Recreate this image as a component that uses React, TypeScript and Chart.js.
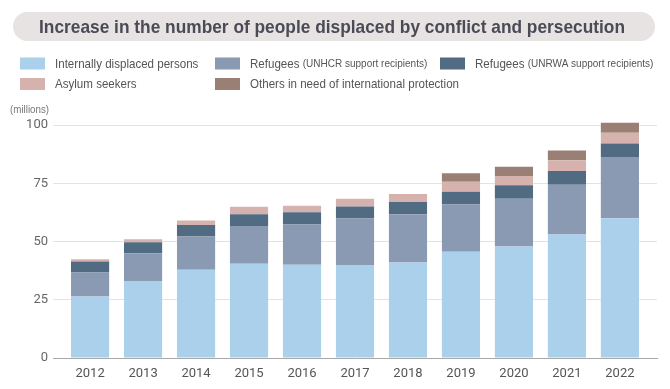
import React, { useEffect, useRef } from "react";
import { Chart, registerables } from "chart.js";

Chart.register(...registerables);

const TITLE = "Increase in the number of people displaced by conflict and persecution";
const UNIT_LABEL = "(millions)";
const YEARS = [2012, 2013, 2014, 2015, 2016, 2017, 2018, 2019, 2020, 2021, 2022];
const SERIES_LABELS = [
  "Internally displaced persons",
  "Refugees (UNHCR support recipients)",
  "Refugees (UNRWA support recipients)",
  "Asylum seekers",
  "Others in need of international protection",
];
const IDP = [26.4, 33.1, 37.9, 40.4, 40.0, 39.9, 41.0, 45.6, 47.9, 53.0, 60.0];
const UNHCR = [10.3, 11.9, 14.2, 16.3, 17.3, 20.0, 20.7, 20.3, 20.5, 21.4, 26.3];
const UNRWA = [4.7, 4.7, 5.0, 5.0, 5.3, 5.1, 5.2, 5.5, 5.7, 5.9, 5.8];
const ASYLUM = [1.0, 1.3, 1.9, 3.2, 2.7, 3.3, 3.5, 4.2, 4.0, 4.6, 4.6];
const OTHERS = [0, 0, 0, 0, 0, 0, 0, 3.7, 4.0, 4.2, 4.3];
const Y_TICKS = [0, 25, 50, 75, 100];

const SERIES = [IDP, UNHCR, UNRWA, ASYLUM, OTHERS];
const COLORS = ["#abd0ec", "#8b9ab3", "#506b82", "#d5b2ae", "#9a7f75"];
const FONT = "'Liberation Sans', Arial, sans-serif";
const TICK_FONT = "Roboto, 'Liberation Sans', sans-serif";

function drawScaledText(
  ctx: CanvasRenderingContext2D,
  text: string,
  x: number,
  y: number,
  font: string,
  sx: number,
  align: "left" | "center" | "right" = "left"
) {
  ctx.save();
  ctx.font = font;
  ctx.textAlign = align;
  ctx.textBaseline = "middle";
  ctx.translate(x, y);
  ctx.scale(sx, 1);
  ctx.fillText(text, 0, 0);
  const w = ctx.measureText(text).width * sx;
  ctx.restore();
  return w;
}

const decorPlugin = {
  id: "decor",
  beforeDraw(chart: any) {
    const ctx = chart.ctx;
    ctx.save();
    ctx.fillStyle = "#e7e3e2";
    const x = 13, y = 12, w = 642, h = 29, r = 14.5;
    ctx.beginPath();
    ctx.moveTo(x + r, y);
    ctx.lineTo(x + w - r, y);
    ctx.arc(x + w - r, y + r, r, -Math.PI / 2, Math.PI / 2);
    ctx.lineTo(x + r, y + h);
    ctx.arc(x + r, y + r, r, Math.PI / 2, Math.PI * 1.5);
    ctx.closePath();
    ctx.fill();

    // title, condensed to the reference width
    const titleFont = `bold 18.5px ${FONT}`;
    ctx.font = titleFont;
    const tw = ctx.measureText(TITLE).width;
    ctx.fillStyle = "#4b4b58";
    drawScaledText(ctx, TITLE, 332, 27.5, titleFont, 586 / tw, "center");
    ctx.restore();
  },
  afterDraw(chart: any) {
    const ctx = chart.ctx;
    ctx.save();
    const cols = [20, 215, 440];
    const rows = [63.5, 84];
    const sx = 0.87;
    chart.data.datasets.forEach((ds: any, i: number) => {
      const cx = cols[i % 3];
      const cy = rows[Math.floor(i / 3)];
      ctx.fillStyle = ds.backgroundColor;
      ctx.fillRect(cx, cy - 6, 25, 12);
      const label: string = ds.label;
      const idx = label.indexOf(" (");
      const main = idx >= 0 ? label.slice(0, idx + 1) : label;
      const sub = idx >= 0 ? label.slice(idx + 1) : "";
      ctx.fillStyle = "#555";
      const mw = drawScaledText(ctx, main, cx + 35, cy + 0.5, `13.3px ${FONT}`, sx);
      if (sub) {
        ctx.fillStyle = "#555";
        drawScaledText(ctx, sub, cx + 35 + mw, cy + 0.5, `11.5px ${FONT}`, sx);
      }
    });
    ctx.fillStyle = "#777";
    drawScaledText(ctx, UNIT_LABEL, 10, 110, `11.5px ${FONT}`, 0.85);
    ctx.restore();
  },
};

export default function App() {
  const ref = useRef<HTMLCanvasElement | null>(null);
  useEffect(() => {
    document.body.style.margin = "0";
    if (!ref.current) return;
    const chart = new Chart(ref.current, {
      type: "bar",
      data: {
        datasets: SERIES.map((vals, i) => ({
          label: SERIES_LABELS[i],
          data: vals.map((v, j) => ({ x: YEARS[j], y: v })),
          backgroundColor: COLORS[i],
          borderWidth: 0,
          clip: false as any,
          categoryPercentage: 0.8,
          barPercentage: 0.9,
        })),
      },
      options: {
        responsive: false,
        animation: false,
        layout: { padding: { left: 0, right: 13, top: 125, bottom: 0 } },
        plugins: {
          legend: { display: false },
          tooltip: { enabled: false },
          title: { display: false, text: TITLE },
        },
        scales: {
          x: {
            type: "linear",
            stacked: true,
            offset: false,
            min: YEARS[0] - 0.7,
            max: YEARS[YEARS.length - 1] + 0.7,
            afterBuildTicks: (scale: any) => {
              scale.ticks = YEARS.map((v) => ({ value: v }));
            },
            afterFit: (scale: any) => {
              scale.height = 31;
            },
            grid: { display: false, drawTicks: false, tickLength: 0, offset: false },
            border: { display: true, color: "#a9a9a9", width: 1 },
            ticks: {
              color: "#555",
              font: { family: TICK_FONT, size: 13 },
              padding: 8,
              maxRotation: 0,
              autoSkip: false,
              callback: (v: any) => String(v),
            },
          },
          y: {
            stacked: true,
            min: 0,
            max: 100,
            afterBuildTicks: (scale: any) => {
              scale.ticks = Y_TICKS.map((v) => ({ value: v }));
            },
            afterFit: (scale: any) => {
              scale.width = 53;
            },
            grid: { color: "#e3e3e3", drawTicks: false, tickLength: 0 },
            border: { display: false },
            ticks: {
              color: "#666",
              font: { family: TICK_FONT, size: 13 },
              padding: 5,
              callback: (v: any) => String(v),
            },
          },
        },
      } as any,
      plugins: [decorPlugin],
    });
    return () => chart.destroy();
  }, []);
  return (
    <div style={{ width: 670, height: 389, background: "#fff" }}>
      <canvas ref={ref} width={670} height={389} />
    </div>
  );
}
